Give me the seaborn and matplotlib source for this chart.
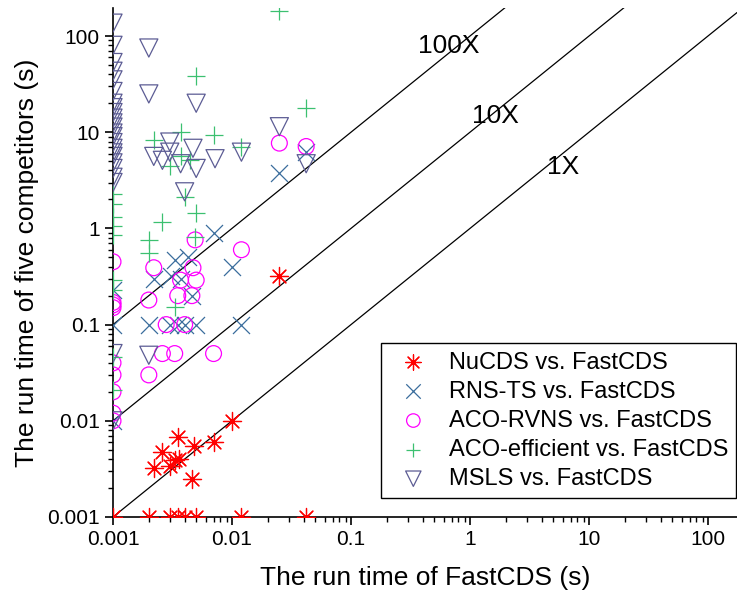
import numpy as np
import pandas as pd
import matplotlib
matplotlib.use("Agg")
import matplotlib.pyplot as plt
import matplotlib.ticker as mticker
import seaborn as sns

# run times (s): x = FastCDS, y = competitor
nu_x = [0.01, 0.007, 0.0035, 0.0048, 0.0026, 0.0022, 0.003, 0.0033, 0.0036, 0.0046, 0.025,
        0.001, 0.002, 0.003, 0.0035, 0.004, 0.005, 0.012, 0.042]
nu_y = [0.01, 0.006, 0.0068, 0.0055, 0.0047, 0.0032, 0.0034, 0.0039, 0.004, 0.0025, 0.32,
        0.001, 0.001, 0.001, 0.001, 0.001, 0.001, 0.001, 0.001]

rns_x = [0.007, 0.0033, 0.0043, 0.0022, 0.0031, 0.0037, 0.0046, 0.01, 0.025, 0.042,
         0.001, 0.002, 0.003, 0.0035, 0.004, 0.005, 0.012, 0.001, 0.001]
rns_y = [0.9, 0.47, 0.5, 0.3, 0.32, 0.3, 0.2, 0.4, 3.8, 6.3,
         0.1, 0.1, 0.1, 0.1, 0.1, 0.1, 0.1, 0.01, 0.23]

rvns_x = [0.012, 0.0049, 0.0022, 0.0047, 0.0037, 0.005, 0.0035, 0.0046, 0.002, 0.0028, 0.004,
          0.0026, 0.0033, 0.007, 0.002, 0.025, 0.042,
          0.001, 0.001, 0.001, 0.001, 0.001, 0.001, 0.001, 0.001, 0.001]
rvns_y = [0.6, 0.76, 0.39, 0.39, 0.29, 0.29, 0.2, 0.2, 0.18, 0.1, 0.1,
          0.05, 0.05, 0.05, 0.03, 7.7, 7.1,
          0.45, 0.17, 0.16, 0.15, 0.04, 0.03, 0.02, 0.012, 0.01]

eff_x = [0.025, 0.005, 0.0037, 0.007, 0.0022, 0.012, 0.042, 0.0037, 0.0044, 0.003, 0.004,
         0.005, 0.0026, 0.002, 0.002, 0.0049, 0.0033,
         0.001, 0.001, 0.001, 0.001, 0.001, 0.001, 0.001, 0.001, 0.001]
eff_y = [180, 38, 10, 9.4, 8.3, 7.1, 17.7, 5.6, 5.1, 4.5, 2.1,
         1.44, 1.17, 0.75, 0.55, 0.81, 0.153,
         2.3, 1.8, 1.3, 1.05, 0.85, 0.29, 0.23, 0.046, 0.021]

msls_x = [0.002, 0.002, 0.005, 0.025, 0.003, 0.0047, 0.0022, 0.003, 0.0026, 0.0037, 0.005,
          0.0072, 0.012, 0.004, 0.042, 0.002] + [0.001] * 24
msls_y = [75, 25, 20, 11.4, 7.9, 6.8, 5.6, 6.2, 5.1, 4.7, 4.2,
          5.3, 6.2, 2.4, 4.7, 0.048,
          136, 80, 53, 43, 35, 26.5, 20, 18, 16, 14, 12.5, 11.3, 9.8, 9, 7.8, 6.8,
          6.1, 5.6, 4.8, 4.2, 3.4, 3.0, 0.05, 0.01]

labels = ["NuCDS vs. FastCDS", "RNS-TS vs. FastCDS", "ACO-RVNS vs. FastCDS",
          "ACO-efficient vs. FastCDS", "MSLS vs. FastCDS"]
ratios = [100, 10, 1]
ratio_labels = ["100X", "10X", "1X"]

sns.set_style("ticks")
plt.rcParams["font.family"] = ["Liberation Sans", "DejaVu Sans"]
plt.rcParams["text.color"] = "black"
plt.rcParams["axes.labelcolor"] = "black"

fig = plt.figure(figsize=(7.37, 5.99), dpi=100)
ax = fig.add_axes([113 / 737, 82 / 599, 624 / 737, 509 / 599])

series = [
    (nu_x, nu_y, (8, 2, 0), "#ff0000", True, 170),
    (rns_x, rns_y, "x", "#3a6d9c", True, 150),
    (rvns_x, rvns_y, "o", "#ff00ff", False, 130),
    (eff_x, eff_y, "+", "#3cc070", True, 150),
    (msls_x, msls_y, "v", "#5c5c94", False, 170),
]

for (xs, ys, mk, col, line_art, sz), lab in zip(series, labels):
    df = pd.DataFrame({"x": xs, "y": ys})
    if line_art:
        sns.scatterplot(data=df, x="x", y="y", marker=mk, color=col, s=sz,
                        linewidth=0.9, ax=ax, label=lab, zorder=3)
    else:
        sns.scatterplot(data=df, x="x", y="y", marker=mk, facecolor="none",
                        edgecolor=col, color=col, s=sz, linewidth=0.9, ax=ax,
                        label=lab, zorder=3)

ax.set_xscale("log")
ax.set_yscale("log")
xmax = 10 ** (624 / 119 - 3)
ymax = 10 ** (509 / 96.2 - 3)
ax.set_xlim(0.001, xmax)
ax.set_ylim(0.001, ymax)

# reference lines y = k * x
xl = np.array([0.001, xmax])
for k in ratios:
    ax.plot(xl, k * xl, color="black", lw=0.9, zorder=2)

ax.text(0.667, 78.7, ratio_labels[0], fontsize=19, ha="center", va="center")
ax.text(1.65, 14.7, ratio_labels[1], fontsize=19, ha="center", va="center")
ax.text(6.05, 4.35, ratio_labels[2], fontsize=19, ha="center", va="center")

fmt = mticker.FuncFormatter(lambda v, p: "{:g}".format(v))
ax.xaxis.set_major_locator(mticker.LogLocator(base=10, numticks=10))
ax.yaxis.set_major_locator(mticker.LogLocator(base=10, numticks=10))
ax.xaxis.set_major_formatter(fmt)
ax.yaxis.set_major_formatter(fmt)
ax.xaxis.set_minor_formatter(mticker.NullFormatter())
ax.yaxis.set_minor_formatter(mticker.NullFormatter())

ax.spines["top"].set_visible(False)
ax.spines["right"].set_visible(False)
for s in ["left", "bottom"]:
    ax.spines[s].set_linewidth(1.2)
    ax.spines[s].set_color("black")
ax.tick_params(which="major", direction="out", length=6, width=1.2, labelsize=15,
               colors="black", labelcolor="black")
ax.tick_params(which="minor", direction="out", length=3.5, width=1.0, colors="black")

ax.set_xlabel("The run time of FastCDS (s)", fontsize=19, labelpad=12)
ax.set_ylabel("The run time of five competitors (s)", fontsize=19, labelpad=6)

leg = ax.legend(loc="lower right", bbox_to_anchor=(0.999, 0.037), borderaxespad=0,
                fontsize=17, frameon=True, fancybox=False, edgecolor="black",
                framealpha=1, labelspacing=0.3, handletextpad=0.5, borderpad=0.35,
                markerscale=0.85)
leg.get_frame().set_linewidth(1.0)

fig.savefig("out.png", dpi=100)
